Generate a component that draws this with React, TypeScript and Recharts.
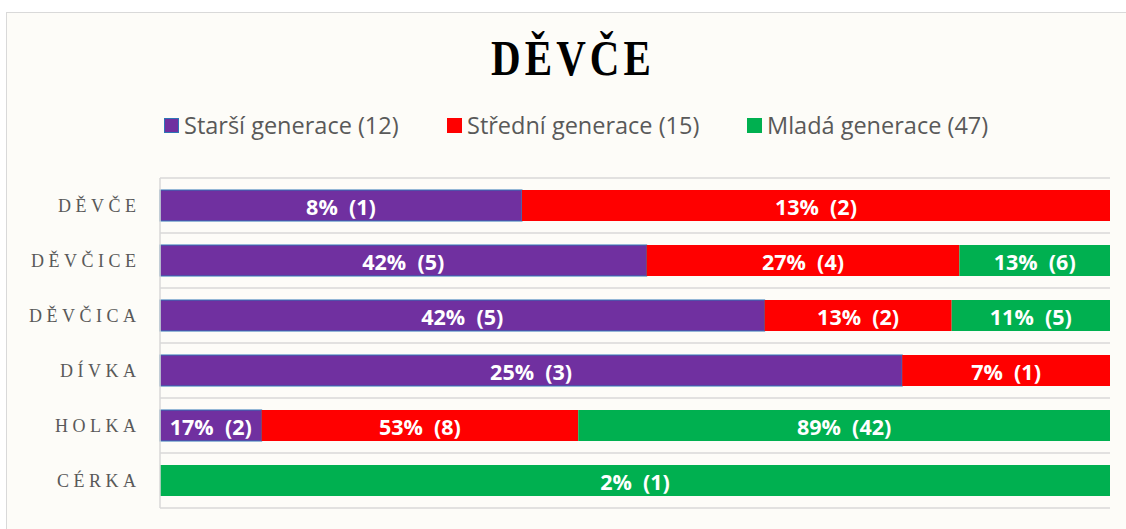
import React from 'react';
import { BarChart, Bar, XAxis, YAxis, CartesianGrid, Legend, LabelList } from 'recharts';

const categories = ['DĚVČE', 'DĚVČICE', 'DĚVČICA', 'DÍVKA', 'HOLKA', 'CÉRKA'];
const seriesNames = ['Starší generace', 'Střední generace', 'Mladá generace'];
const groupSizes = [12, 15, 47];
const starsiPct = [8, 42, 42, 25, 17, 0];
const stredniPct = [13, 27, 13, 7, 53, 0];
const mladaPct = [0, 13, 11, 0, 89, 2];
const starsiCounts = [1, 5, 5, 3, 2, 0];
const stredniCounts = [2, 4, 2, 1, 8, 0];
const mladaCounts = [0, 6, 5, 0, 42, 1];
const colors = ['#7030a0', '#ff0000', '#00b050'];

const pctBySeries = [starsiPct, stredniPct, mladaPct];
const countsBySeries = [starsiCounts, stredniCounts, mladaCounts];
const keys = ['s', 'm', 'y'];

const labelText = (si: number, i: number) => {
  const c = countsBySeries[si][i];
  if (!c) return '';
  return `${pctBySeries[si][i]}%\u00A0\u00A0(${c})`;
};

const data = categories.map((name, i) => ({
  name,
  s: starsiPct[i],
  m: stredniPct[i],
  y: mladaPct[i],
  sL: labelText(0, i),
  mL: labelText(1, i),
  yL: labelText(2, i),
}));

const SegLabel = (props: any) => {
  const { x, y, width, height, value } = props;
  if (!value) return null;
  return (
    <text
      x={Number(x) + Number(width) / 2}
      y={Number(y) + Number(height) / 2 + 1}
      textAnchor="middle"
      dominantBaseline="central"
      fill="#ffffff"
      fontFamily="'Open Sans', sans-serif"
      fontWeight={700}
      fontSize={21.5}
    >
      {value}
    </text>
  );
};

const CatTick = (props: any) => {
  const { x, y, payload } = props;
  return (
    <text
      x={x - 11.5}
      y={y}
      textAnchor="end"
      dominantBaseline="central"
      fill="#595959"
      fontFamily="'Liberation Serif', serif"
      fontSize={18}
      letterSpacing={4.5}
    >
      {payload.value}
    </text>
  );
};

const LegendContent = () => {
  const lefts = [164, 447, 747];
  return (
    <div style={{ position: 'relative', height: 30, fontFamily: "'Open Sans', sans-serif", fontSize: 23.5, color: '#595959', lineHeight: '30px' }}>
      {seriesNames.map((n, i) => (
        <div key={n} style={{ position: 'absolute', left: lefts[i], top: 0, display: 'flex', alignItems: 'center', whiteSpace: 'nowrap', height: 30 }}>
          <span
            style={{
              display: 'inline-block',
              width: 15,
              height: 15,
              boxSizing: 'border-box',
              background: colors[i],
              border: i === 0 ? '1.5px solid #2e75b6' : 'none',
              marginRight: 5,
            }}
          />
          <span>{`${n} (${groupSizes[i]})`}</span>
        </div>
      ))}
    </div>
  );
};

export default function App() {
  return (
    <div style={{ position: 'absolute', left: 0, top: 0, width: 1126, height: 529, overflow: 'hidden', background: '#ffffff' }}>
      <div
        style={{
          position: 'absolute',
          left: 6,
          top: 12,
          width: 1130,
          height: 530,
          border: '1px solid #d9d9d9',
          background: '#fdfcf8',
        }}
      />
      <div
        style={{
          position: 'absolute',
          left: 0,
          width: 1146,
          top: 30,
          textAlign: 'center',
          fontFamily: "'Liberation Serif', serif",
          fontWeight: 700,
          fontSize: 50,
          letterSpacing: 5,
          color: '#000000',
          lineHeight: '56px',
        }}
      >
        <span style={{ display: 'inline-block', transform: 'scaleX(0.82)' }}>DĚVČE</span>
      </div>
      <div style={{ position: 'absolute', left: 0, top: 0 }}>
        <BarChart
          width={1126}
          height={529}
          data={data}
          layout="vertical"
          stackOffset="expand"
          margin={{ top: 148, right: 16, bottom: 21, left: 10 }}
        >
          <CartesianGrid
            vertical={false}
            stroke="#d9d9d9"
            strokeWidth={1.5}
            horizontalCoordinatesGenerator={({ offset }: any) =>
              categories.map((_, i) => offset.top + (i * offset.height) / categories.length).concat([offset.top + offset.height])
            }
          />
          <XAxis type="number" hide domain={[0, 1]} />
          <YAxis
            type="category"
            dataKey="name"
            width={150}
            tick={<CatTick />}
            tickLine={false}
            axisLine={{ stroke: '#d9d9d9', strokeWidth: 1.5 }}
            interval={0}
          />
          <Legend
            verticalAlign="top"
            height={30}
            content={<LegendContent />}
            wrapperStyle={{ position: 'absolute', top: 110, left: 0, width: 1126, height: 30 }}
          />
          {keys.map((k, i) => (
            <Bar
              key={k}
              dataKey={k}
              stackId="a"
              fill={colors[i]}
              stroke={i === 0 ? '#2e75b6' : 'none'}
              strokeWidth={i === 0 ? 1.2 : 0}
              barSize={31}
              isAnimationActive={false}
              name={seriesNames[i]}
            >
              <LabelList dataKey={`${k}L`} content={<SegLabel />} />
            </Bar>
          ))}
        </BarChart>
      </div>
    </div>
  );
}
